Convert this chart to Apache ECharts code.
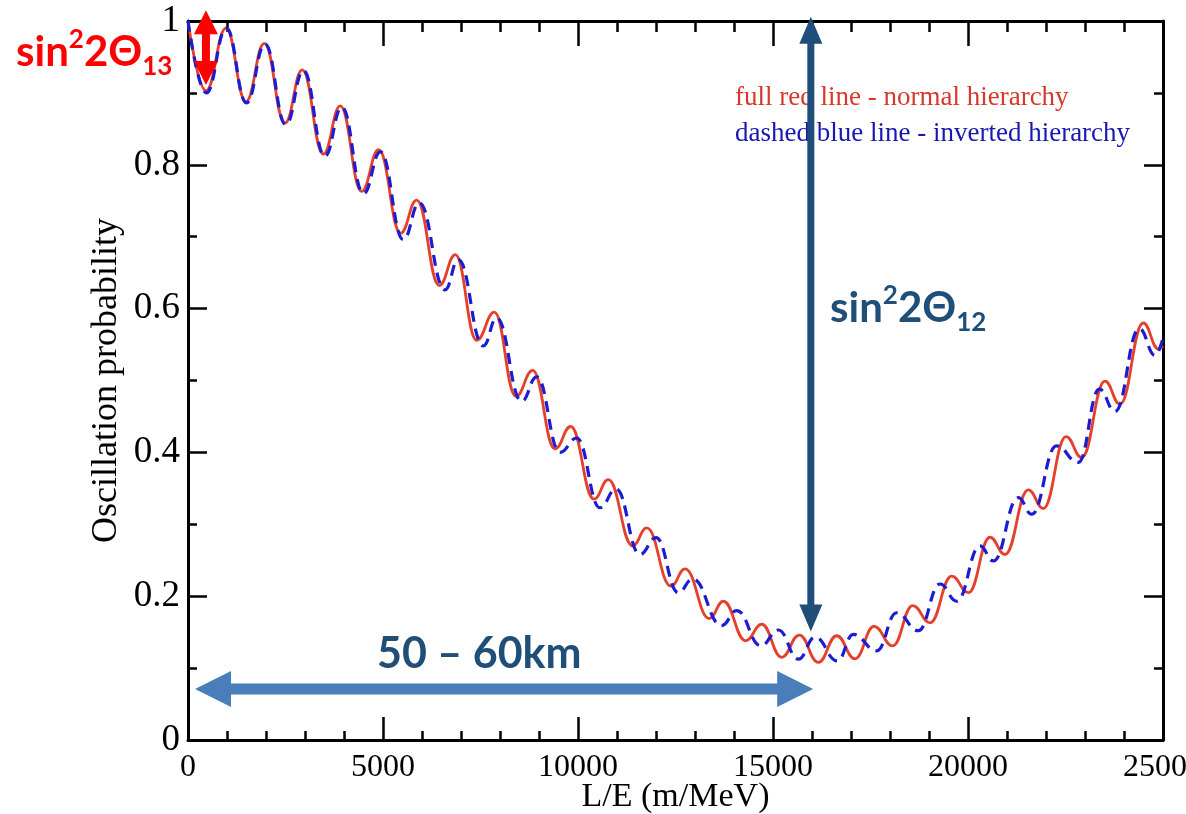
<!DOCTYPE html>
<html>
<head>
<meta charset="utf-8">
<title>Oscillation probability vs L/E</title>
<script src="https://cdn.jsdelivr.net/npm/echarts@6/dist/echarts.min.js"></script>
<style>
  html, body { margin: 0; padding: 0; background: #fff; }
  #graph { width: 1186px; height: 814px; }
</style>
</head>
<body>
<div id="graph"></div>
<script>
  // turning points (troughs / peaks) of the curves
  var nhLE = [0, 462, 974, 1487, 1957, 2487, 2931, 3470, 3905, 4453, 4889, 5453, 5864, 6444, 6855,
    7402, 7855, 8410, 8838, 9410, 9813, 10410, 10777, 11402, 11762, 12385, 12744, 13367, 13726,
    14300, 14710, 15223, 15674, 16162, 16633, 17102, 17590, 18069, 18582, 19026, 19582, 20009,
    20564, 20949, 21546, 21931, 22513, 22915, 23513, 23897, 24495, 24880, 25000];
  var nhProb = [1.0, 0.903, 0.990, 0.888, 0.969, 0.858, 0.932, 0.815, 0.882, 0.763, 0.821, 0.705,
    0.751, 0.632, 0.675, 0.556, 0.595, 0.478, 0.514, 0.405, 0.436, 0.335, 0.362, 0.270, 0.295,
    0.214, 0.238, 0.169, 0.193, 0.138, 0.161, 0.115, 0.146, 0.108, 0.145, 0.113, 0.158, 0.131,
    0.187, 0.163, 0.228, 0.205, 0.282, 0.258, 0.348, 0.322, 0.422, 0.393, 0.499, 0.467, 0.580,
    0.544, 0.548];

  var ihLE = [0, 470, 985, 1500, 1975, 2510, 2960, 3510, 3945, 4500, 4935, 5521, 5932, 6590, 6931,
    7572, 7915, 8556, 8941, 9538, 9966, 10564, 10974, 11590, 12000, 12572, 12940, 13684, 14070,
    14690, 15137, 15650, 16077, 16650, 17060, 17658, 18171, 18726, 19282, 19710, 20308, 20650,
    21290, 21633, 22270, 22829, 23368, 23769, 24393, 24795, 25000];
  var ihProb = [1.0, 0.900, 0.990, 0.886, 0.968, 0.856, 0.931, 0.812, 0.880, 0.760, 0.818, 0.696,
    0.747, 0.626, 0.668, 0.548, 0.587, 0.471, 0.505, 0.400, 0.420, 0.323, 0.349, 0.258, 0.2815,
    0.205, 0.224, 0.159, 0.180, 0.131, 0.153, 0.1125, 0.143, 0.110, 0.147, 0.124, 0.177, 0.152,
    0.217, 0.193, 0.270, 0.249, 0.337, 0.314, 0.409, 0.386, 0.488, 0.457, 0.572, 0.535, 0.559];

  // annotation arrows, ends given in data units [L/E, probability]
  var theta13Arrow = [[460, 1.015], [460, 0.911]];
  var theta12Arrow = [[15970, 1.006], [15970, 0.151]];
  var distArrow = [[180, 0.071], [16030, 0.071]];

  var serif = '"Liberation Serif", "Times New Roman", serif';
  var sans = 'Lato, "Open Sans", sans-serif';

  var myChart = echarts.init(document.getElementById('graph'));

  function pairs(xs, ys) {
    return xs.map(function (x, i) { return [x, ys[i]]; });
  }

  var black = { color: '#000', width: 2.5 };
  var frame = { onZero: false, lineStyle: { color: '#000', width: 3 } };

  var option = {
    animation: false,
    backgroundColor: '#fff',
    grid: { left: 188, right: 23, top: 21, bottom: 74, containLabel: false, outerBoundsMode: 'none' },
    xAxis: [{
      type: 'value', min: 0, max: 25000, interval: 5000, position: 'bottom',
      axisLine: frame,
      axisTick: { inside: true, length: 23, lineStyle: black },
      minorTick: { show: true, splitNumber: 5, length: 9, lineStyle: black },
      splitLine: { show: false },
      axisLabel: {
        margin: 12, fontSize: 32, fontFamily: serif, color: '#000',
        showMinLabel: true, showMaxLabel: true, hideOverlap: false,
        formatter: function (v) { return String(v); }
      },
      name: 'L/E (m/MeV)', nameLocation: 'middle', nameGap: 40, nameMoveOverlap: false,
      nameTextStyle: { fontSize: 34, fontFamily: serif, color: '#000' }
    }, {
      type: 'value', min: 0, max: 25000, interval: 5000, position: 'top',
      axisLine: frame,
      axisTick: { inside: true, length: 25, lineStyle: black },
      minorTick: { show: true, splitNumber: 5, length: 11, lineStyle: black },
      splitLine: { show: false },
      axisLabel: { show: false }
    }],
    yAxis: [{
      type: 'value', min: 0, max: 1, interval: 0.2, position: 'left',
      axisLine: frame,
      axisTick: { inside: true, length: 19, lineStyle: black },
      minorTick: { show: true, splitNumber: 2, length: 9, lineStyle: black },
      splitLine: { show: false },
      axisLabel: { margin: 8, fontSize: 37, fontFamily: serif, color: '#000' },
      name: 'Oscillation probability', nameLocation: 'middle', nameGap: 63, nameMoveOverlap: false,
      nameTextStyle: { fontSize: 36, fontFamily: serif, color: '#000' }
    }, {
      type: 'value', min: 0, max: 1, interval: 0.2, position: 'right',
      axisLine: frame,
      axisTick: { inside: true, length: 19, lineStyle: black },
      minorTick: { show: true, splitNumber: 2, length: 9, lineStyle: black },
      splitLine: { show: false },
      axisLabel: { show: false }
    }],
    series: [{
      name: 'normal hierarchy', type: 'line',
      data: pairs(nhLE, nhProb),
      showSymbol: false, smooth: 0.45, smoothMonotone: 'x',
      lineStyle: { color: '#e4402b', width: 2.8 },
      z: 2
    }, {
      name: 'inverted hierarchy', type: 'line',
      data: pairs(ihLE, ihProb),
      showSymbol: false, smooth: 0.45, smoothMonotone: 'x',
      lineStyle: { color: '#1c1cd2', width: 3.2, type: [11, 7] },
      z: 3
    }]
  };

  myChart.setOption(option);

  // polygon for a double arrow between two pixel points
  function arrowShape(a, b, shaft, headW, headL) {
    var dx = b[0] - a[0], dy = b[1] - a[1];
    var len = Math.sqrt(dx * dx + dy * dy);
    var ux = dx / len, uy = dy / len, nx = -uy, ny = ux;
    function p(t, s) { return [a[0] + ux * t + nx * s, a[1] + uy * t + ny * s]; }
    var h = shaft / 2, w = headW / 2, s1 = len - headL;
    return [p(s1, h), p(s1, w), p(len, 0), p(s1, -w), p(s1, -h),
      p(headL, -h), p(headL, -w), p(0, 0), p(headL, w), p(headL, h)];
  }

  function toPx(pt) {
    return myChart.convertToPixel({ xAxisIndex: 0, yAxisIndex: 0 }, pt);
  }

  function arrow(ends, color, shaft, headW, headL) {
    return {
      type: 'polygon', z: 20,
      shape: { points: arrowShape(toPx(ends[0]), toPx(ends[1]), shaft, headW, headL) },
      style: { fill: color }
    };
  }

  function thetaLabel(x, y, color, sub) {
    return {
      type: 'text', x: x, y: y, z: 20,
      style: {
        text: '{m|sin}{p|2}{m|2Θ}{b|' + sub + '}',
        fill: color,
        rich: {
          m: { fontSize: 42, fontWeight: 'bold', fontFamily: sans, fill: color, lineHeight: 55 },
          p: { fontSize: 26, fontWeight: 'bold', fontFamily: sans, fill: color, verticalAlign: 'top', padding: [2, 0, 0, 0] },
          b: { fontSize: 26, fontWeight: 'bold', fontFamily: sans, fill: color, verticalAlign: 'bottom' }
        }
      }
    };
  }

  myChart.setOption({
    graphic: [
      {
        type: 'text', x: 735, y: 98, z: 10,
        style: { text: 'full red line - normal hierarchy', fill: '#d6392b', fontSize: 27, fontFamily: serif, verticalAlign: 'middle' }
      },
      {
        type: 'text', x: 735, y: 134, z: 10,
        style: { text: 'dashed blue line - inverted hierarchy', fill: '#1717b4', fontSize: 27, fontFamily: serif, verticalAlign: 'middle' }
      },
      thetaLabel(16, 25, '#ff0000', '13'),
      thetaLabel(830, 281, '#1f4e79', '12'),
      {
        type: 'text', x: 377, y: 654, z: 20,
        style: { text: '50 – 60km', fill: '#1f4e79', fontSize: 43, fontWeight: 'bold', fontFamily: sans, verticalAlign: 'middle' }
      },
      arrow(theta13Arrow, '#ff0000', 8, 24, 24),
      arrow(theta12Arrow, '#1f4e79', 7, 23, 27),
      arrow(distArrow, '#4a7ebb', 11, 36, 36)
    ]
  });
</script>
</body>
</html>
